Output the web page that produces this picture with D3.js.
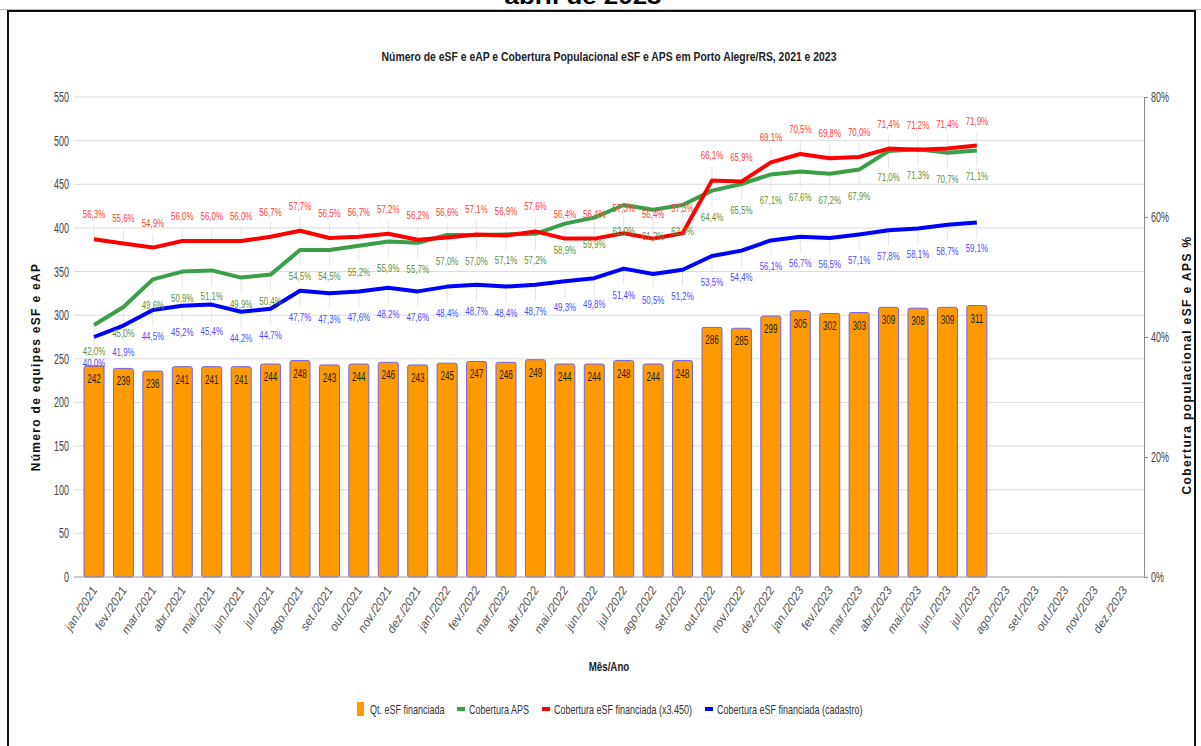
<!DOCTYPE html>
<html lang="pt">
  <head>
    <meta charset="utf-8">
    <title>Número de eSF e eAP e Cobertura Populacional</title>
    <script src="https://d3js.org/d3.v7.min.js"></script>
    <style>
      body { margin: 0; background: #fff; }
      svg text { font-family: "Liberation Sans", Arial, sans-serif; }
    </style>
  </head>
  <body>
    <div id="chart"></div>
    <script>
      var months = ["jan./2021","fev./2021","mar./2021","abr./2021","mai./2021","jun./2021","jul./2021","ago./2021","set./2021","out./2021","nov./2021","dez./2021",
        "jan./2022","fev./2022","mar./2022","abr./2022","mai./2022","jun./2022","jul./2022","ago./2022","set./2022","out./2022","nov./2022","dez./2022",
        "jan./2023","fev./2023","mar./2023","abr./2023","mai./2023","jun./2023","jul./2023","ago./2023","set./2023","out./2023","nov./2023","dez./2023"];
      // Qt. eSF financiada (bars)
      var equipes = [242,239,236,241,241,241,244,248,243,244,246,243,245,247,246,249,244,244,248,244,248,286,285,299,305,302,303,309,308,309,311];
      // coverage lines (%)
      var cobAPS = [42.0,45.0,49.6,50.9,51.1,49.9,50.4,54.5,54.5,55.2,55.9,55.7,57.0,57.0,57.1,57.2,58.9,59.9,62.0,61.2,62.0,64.4,65.5,67.1,67.6,67.2,67.9,71.0,71.3,70.7,71.1];
      var cobFin = [56.3,55.6,54.9,56.0,56.0,56.0,56.7,57.7,56.5,56.7,57.2,56.2,56.6,57.1,56.9,57.6,56.4,56.4,57.3,56.4,57.3,66.1,65.9,69.1,70.5,69.8,70.0,71.4,71.2,71.4,71.9];
      var cobCad = [40.0,41.9,44.5,45.2,45.4,44.2,44.7,47.7,47.3,47.6,48.2,47.6,48.4,48.7,48.4,48.7,49.3,49.8,51.4,50.5,51.2,53.5,54.4,56.1,56.7,56.5,57.1,57.8,58.1,58.7,59.1];
      var leftTicks = d3.range(0, 551, 50);
      var rightTicks = [0, 20, 40, 60, 80];

      var W = 1201, H = 746;
      var svg = d3.select("#chart").append("svg").attr("width", W).attr("height", H);

      // squeeze text horizontally (the source image is narrow)
      function squeeze(sel, sx) {
        sel.each(function() {
          var t = d3.select(this);
          var tx = +t.attr("x") || 0, ty = +t.attr("y") || 0;
          t.attr("x", 0).attr("y", 0)
            .attr("transform", "translate(" + tx + "," + ty + ") scale(" + sx + ",1)");
        });
      }

      // frame
      svg.append("text").attr("x", 583).attr("y", 4)
        .attr("text-anchor", "middle").style("font-size", "22px").style("font-weight", "bold")
        .attr("textLength", 157).attr("lengthAdjust", "spacingAndGlyphs")
        .text("abril de 2023");
      svg.append("rect").attr("x", 0).attr("y", 9).attr("width", W).attr("height", 1).attr("fill", "#bbb");
      svg.append("rect").attr("x", 8).attr("y", 11).attr("width", 1187).attr("height", 760)
        .attr("fill", "#fff").attr("stroke", "#111").attr("stroke-width", 2);

      var x = d3.scaleBand().domain(months).range([74, 1144]).paddingInner(0.32).paddingOuter(0.34);
      var y = d3.scaleLinear().domain([0, 550]).range([577, 97]);
      var y2 = d3.scaleLinear().domain([0, 80]).range([577, 97]);
      var cx = function(i) { return x(months[i]) + x.bandwidth() / 2; };

      // gridlines
      svg.append("g").selectAll("line").data(leftTicks.slice(1)).enter().append("line")
        .attr("x1", 74).attr("x2", 1144).attr("y1", y).attr("y2", y)
        .attr("stroke", "#dcdcdc");

      // left axis
      var gl = svg.append("g").attr("transform", "translate(74,0)")
        .call(d3.axisLeft(y).tickValues(leftTicks).tickSize(0).tickPadding(5));
      gl.select(".domain").remove();
      gl.selectAll("text").style("font-size", "14px").attr("fill", "#444").call(squeeze, 0.64);

      // right axis
      var gr = svg.append("g").attr("transform", "translate(1144,0)")
        .call(d3.axisRight(y2).tickValues(rightTicks).tickSize(4).tickPadding(3).tickFormat(function(d) { return d + "%"; }));
      gr.select(".domain").attr("stroke", "#888");
      gr.selectAll(".tick line").attr("stroke", "#888");
      gr.selectAll("text").style("font-size", "14px").attr("fill", "#444").call(squeeze, 0.64);

      // bars
      var bars = svg.append("g").selectAll("g").data(equipes).enter().append("g");
      bars.append("rect")
        .attr("x", function(d, i) { return x(months[i]); })
        .attr("y", function(d) { return y(d); })
        .attr("width", x.bandwidth())
        .attr("height", function(d) { return y(0) - y(d); })
        .attr("rx", 2)
        .attr("fill", "#ff9900").attr("stroke", "#7163ea").attr("stroke-width", 1);
      bars.append("text")
        .attr("x", function(d, i) { return cx(i); })
        .attr("y", function(d) { return y(d) + 17; })
        .attr("text-anchor", "middle").style("font-size", "13.5px").attr("fill", "#222")
        .text(function(d) { return d; })
        .call(squeeze, 0.6);

      // baseline
      svg.append("line").attr("x1", 74).attr("x2", 1144).attr("y1", 577).attr("y2", 577)
        .attr("stroke", "#999");

      var series = [
        {name: "Cobertura APS", values: cobAPS, color: "#3a9f48", label: "#5f8f3c", dy: 30},
        {name: "Cobertura eSF financiada (x3.450)", values: cobFin, color: "#ff0000", label: "#ff3b3b", dy: -21},
        {name: "Cobertura eSF financiada (cadastro)", values: cobCad, color: "#0000ff", label: "#4b4bff", dy: 30}
      ];
      var fmt = function(v) { return v.toFixed(1).replace(".", ",") + "%"; };

      // annotation stems
      series.forEach(function(s) {
        svg.append("g").selectAll("line").data(s.values).enter().append("line")
          .attr("x1", function(d, i) { return cx(i); }).attr("x2", function(d, i) { return cx(i); })
          .attr("y1", function(d) { return y2(d); })
          .attr("y2", function(d) { return y2(d) + (s.dy < 0 ? -14 : 16); })
          .attr("stroke", "#e4e4e4");
      });

      var line = d3.line().x(function(d, i) { return cx(i); }).y(function(d) { return y2(d); });
      series.forEach(function(s) {
        svg.append("path").datum(s.values).attr("d", line)
          .attr("fill", "none").attr("stroke", s.color).attr("stroke-width", 4)
          .attr("stroke-linejoin", "round");
      });
      series.forEach(function(s) {
        svg.append("g").selectAll("text").data(s.values).enter().append("text")
          .attr("x", function(d, i) { return cx(i); })
          .attr("y", function(d) { return y2(d) + s.dy; })
          .attr("text-anchor", "middle").style("font-size", "11px").attr("fill", s.label)
          .text(fmt)
          .call(squeeze, 0.72);
      });

      // x labels
      svg.append("g").selectAll("text").data(months).enter().append("text")
        .attr("transform", function(d, i) { return "translate(" + (cx(i) + 4) + ",590) rotate(-57)"; })
        .attr("text-anchor", "end").style("font-size", "12px").style("font-style", "italic")
        .attr("fill", "#555").text(function(d) { return d; });

      // titles
      svg.append("text").attr("x", 609).attr("y", 61).attr("text-anchor", "middle")
        .style("font-size", "13px").style("font-weight", "bold").attr("fill", "#222")
        .text("Número de eSF e eAP e Cobertura Populacional eSF e APS em Porto Alegre/RS, 2021 e 2023")
        .call(squeeze, 0.8);
      svg.append("text").attr("x", 609).attr("y", 671).attr("text-anchor", "middle")
        .style("font-size", "13px").style("font-weight", "bold").attr("fill", "#222")
        .text("Mês/Ano")
        .call(squeeze, 0.75);
      svg.append("text").attr("transform", "translate(40,367) rotate(-90)")
        .attr("text-anchor", "middle").style("font-size", "12px").style("font-weight", "bold")
        .style("letter-spacing", "1.3px").attr("fill", "#111")
        .text("Número de equipes eSF e eAP");
      svg.append("text").attr("transform", "translate(1191,365) rotate(-90)")
        .attr("text-anchor", "middle").style("font-size", "12px").style("font-weight", "bold")
        .style("letter-spacing", "1.4px").attr("fill", "#111")
        .text("Cobertura populacional eSF e APS %");

      // legend
      var legendItems = [
        {name: "Qt. eSF financiada", color: "#ff9900", bar: true, x: 357},
        {name: series[0].name, color: series[0].color, x: 457},
        {name: series[1].name, color: series[1].color, x: 542},
        {name: series[2].name, color: series[2].color, x: 705}
      ];
      var lg = svg.append("g").selectAll("g").data(legendItems).enter().append("g")
        .attr("transform", function(d) { return "translate(" + d.x + ",709)"; });
      lg.append("rect")
        .attr("x", 0).attr("y", function(d) { return d.bar ? -7 : -2; })
        .attr("width", function(d) { return d.bar ? 7 : 8; })
        .attr("height", function(d) { return d.bar ? 14 : 4; })
        .attr("fill", function(d) { return d.color; });
      lg.append("text").attr("x", function(d) { return d.bar ? 13 : 12; }).attr("y", 5)
        .style("font-size", "12px").attr("fill", "#333").text(function(d) { return d.name; })
        .call(squeeze, 0.75);
    </script>
  </body>
</html>
